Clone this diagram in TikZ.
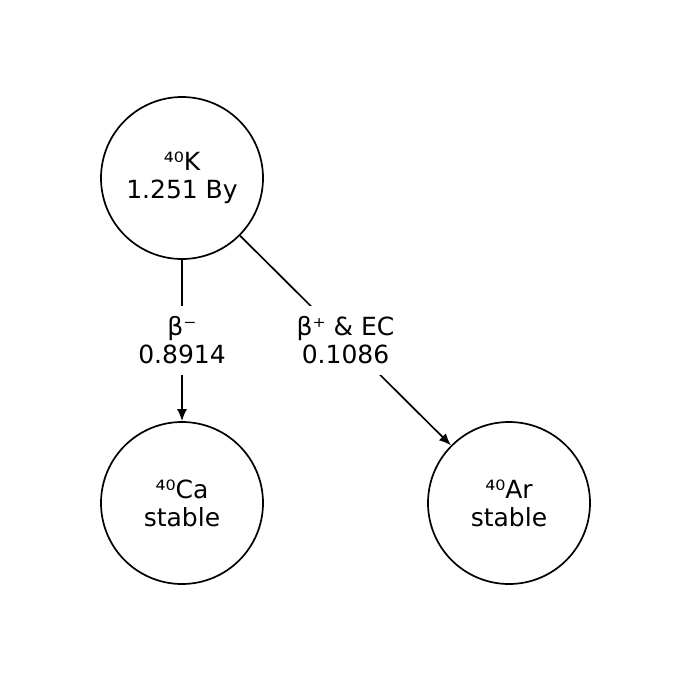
\documentclass[tikz,border=0pt]{standalone}
\usepackage{fontspec}
\setmainfont{DejaVu Sans}
\usetikzlibrary{arrows.meta}
\begin{document}
\begin{tikzpicture}[x=1pt,y=-1pt,
  nuc/.style={circle,draw,line width=1.7pt,minimum size=162pt,inner sep=0pt,align=center,font=\fontsize{25}{28}\selectfont},
  arr/.style={line width=1.7pt,-{Latex[length=12pt,width=10pt]}},
  lbl/.style={fill=white,inner xsep=3pt,inner ysep=10.5pt,align=center,font=\fontsize{25}{28}\selectfont}]
\useasboundingbox (0,0) rectangle (675,675);
\node[nuc] (K) at (182,178) {⁴⁰K\\1.251 By};
\node[nuc] (Ca) at (182,503) {⁴⁰Ca\\stable};
\node[nuc] (Ar) at (509,503) {⁴⁰Ar\\stable};
\draw[arr] (K) -- (Ca) node[midway,lbl] {β⁻\\0.8914};
\draw[arr] (K) -- (Ar) node[midway,lbl] {β⁺ \& EC\\0.1086};
\end{tikzpicture}
\end{document}
